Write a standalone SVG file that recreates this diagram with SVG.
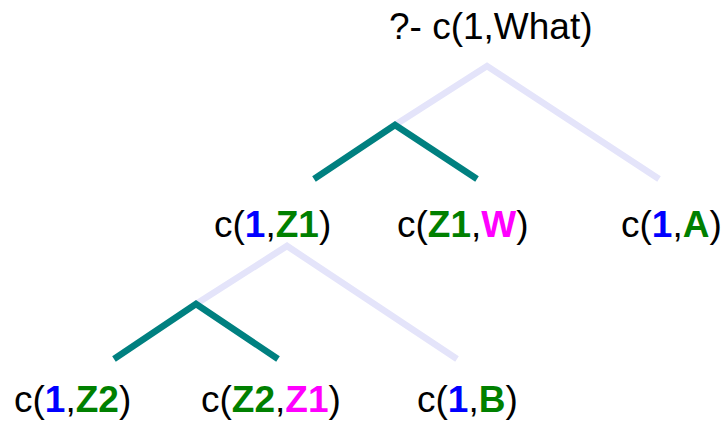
<svg xmlns="http://www.w3.org/2000/svg" width="725" height="424" viewBox="0 0 725 424">
<style>
text{font-family:"Liberation Sans",Arial,sans-serif;font-size:37px;fill:#000}
.b{font-weight:bold}
.blue{fill:#0000ff}
.green{fill:#008000}
.mag{fill:#ff00ff}
.teal{fill:none;stroke:#008080;stroke-width:6.5;stroke-linejoin:miter}
.lav{fill:none;stroke:#e4e4fa;stroke-width:6.5;stroke-linejoin:miter}
</style>
<rect width="725" height="424" fill="#fff"/>
<g id="connectors">
<polyline class="lav" points="395,125 487,66 659,179"/>
<polyline class="teal" points="314,179 395,125 477,179"/>
<polyline class="lav" points="196,304 287,246 457,359"/>
<polyline class="teal" points="114,359 196,304 278,359"/>
</g>
<g id="query"><text x="389" y="39">?- c(1,What)</text></g>
<g id="n_c1Z1"><text x="214" y="237">c(<tspan class="b blue">1</tspan>,<tspan class="b green">Z1</tspan>)</text></g>
<g id="n_cZ1W"><text x="397" y="237">c(<tspan class="b green">Z1</tspan>,<tspan class="b mag">W</tspan>)</text></g>
<g id="n_c1A"><text x="621" y="237">c(<tspan class="b blue">1</tspan>,<tspan class="b green">A</tspan>)</text></g>
<g id="n_c1Z2"><text x="14" y="412">c(<tspan class="b blue">1</tspan>,<tspan class="b green">Z2</tspan>)</text></g>
<g id="n_cZ2Z1"><text x="201" y="412">c(<tspan class="b green">Z2</tspan>,<tspan class="b mag">Z1</tspan>)</text></g>
<g id="n_c1B"><text x="417" y="412">c(<tspan class="b blue">1</tspan>,<tspan class="b green">B</tspan>)</text></g>
</svg>
